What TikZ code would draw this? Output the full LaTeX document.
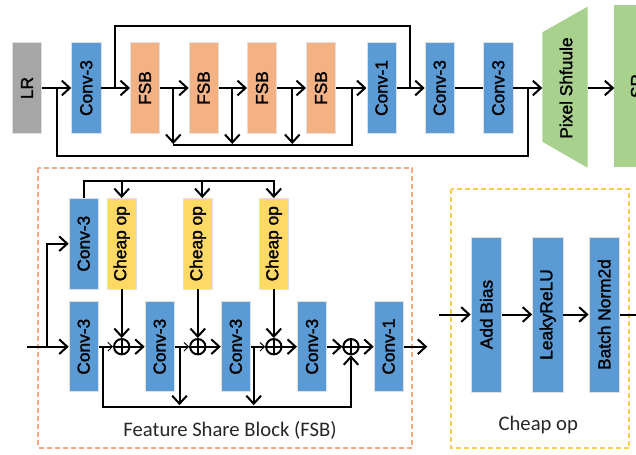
\documentclass[tikz,border=0pt]{standalone}
\usepackage{fontspec}
\setmainfont{Liberation Sans}
\newfontfamily\boxfont{Liberation Sans}[FakeBold=1.6]
\newfontfamily\labfont{Carlito}
\usetikzlibrary{arrows.meta}
\definecolor{cblue}{HTML}{5B9BD5}
\definecolor{corange}{HTML}{F4B183}
\definecolor{cyellow}{HTML}{FFD966}
\definecolor{cgreen}{HTML}{A9D18E}
\definecolor{cgray}{HTML}{A6A6A6}
\definecolor{dorange}{HTML}{F2AB7E}
\definecolor{dyellow}{HTML}{F7CD52}
\newcommand{\vtext}[1]{\rotatebox{90}{#1}}
\begin{document}
\begin{tikzpicture}[x=0.75pt,y=-0.75pt,line width=1.5pt,
  arr/.style={-{Straight Barb[length=6pt,width=11pt]}},
  tarr/.style={-{Straight Barb[length=3.4pt,width=6.5pt,line width=0.7pt]}},
  blk/.style={inner sep=0pt,draw=black!12,line width=0.5pt,font=\boxfont\fontsize{13}{15}\selectfont},
  tb/.style={blk,minimum width=22pt,minimum height=68pt},
  bb/.style={blk,minimum width=22pt,minimum height=67.5pt},
  cb/.style={blk,minimum width=22.9pt,minimum height=116pt,fill=cblue},
  plusnode/.style={circle,draw,line width=1.5pt,minimum size=11.5pt,inner sep=0pt},
  fsbbox/.style={draw=dorange,line width=1.5pt,dash pattern=on 3.75pt off 2.25pt},
  cheapbox/.style={draw=dyellow,line width=1.5pt,dash pattern=on 3.75pt off 2.25pt},
  lab/.style={font=\labfont\fontsize{15.5}{18}\selectfont,text=black!85}]
\useasboundingbox (0,0) rectangle (636,454);
\clip (0,0) rectangle (636,454);
% ---------- top row ----------
\node[tb,fill=cgray] (lr) at (27,88) {\vtext{LR}};
\node[tb,fill=cblue] (c0) at (86.3,88) {\vtext{Conv-3}};
\node[tb,fill=corange] (f1) at (145,88) {\vtext{FSB}};
\node[tb,fill=corange] (f2) at (203.7,88) {\vtext{FSB}};
\node[tb,fill=corange] (f3) at (262,88) {\vtext{FSB}};
\node[tb,fill=corange] (f4) at (321,88) {\vtext{FSB}};
\node[tb,fill=cblue] (c1) at (381.5,88) {\vtext{Conv-1}};
\node[tb,fill=cblue] (c2) at (439.7,88) {\vtext{Conv-3}};
\node[tb,fill=cblue] (c3) at (498.3,88) {\vtext{Conv-3}};
\fill[cgreen] (542.3,32.3) -- (587.5,6.7) -- (587.5,167.7) -- (542.3,141.7) -- cycle;
\node[inner sep=0pt,minimum width=33.9pt,minimum height=82pt,font=\boxfont\fontsize{13}{15}\selectfont] (ps) at (566,88) {\vtext{Pixel Shfuule}};
\fill[cgreen] (614.3,4.7) rectangle (660,166.7);
\node[inner sep=0pt,minimum width=33pt,minimum height=121pt,font=\boxfont\fontsize{13}{15}\selectfont] (sr) at (637,86) {\vtext{SR}};
\coordinate (psin) at (542.3,88);
\coordinate (srin) at (614.3,88);
\coordinate (psout) at (587.5,88);
% top connectors
\coordinate (ja) at (57.3,88);
\coordinate (jz) at (528.3,88);
\coordinate (jb) at (115,88);
\coordinate (jc) at (410,88);
\coordinate (d1) at (173.3,88);
\coordinate (d2) at (232.3,88);
\coordinate (d3) at (292.3,88);
\coordinate (jd) at (352.3,88);
\draw[arr] (lr) -- (c0);
\draw[arr] (c0) -- (f1);
\draw[arr] (f1) -- (f2);
\draw[arr] (f2) -- (f3);
\draw[arr] (f3) -- (f4);
\draw[arr] (f4) -- (c1);
\draw[arr] (c1) -- (c2);
\draw (c2) -- (c3);
\draw[arr] (c3) -- (psin);
\draw[arr] (psout) -- (srin);
\draw (ja) -- ++(0,68) -| (jz);
\draw (jb) -- ++(0,-62) -| (jc);
\draw[arr] (d1) -- ++(0,56);
\draw[arr] (d2) -- ++(0,56);
\draw[arr] (d3) -- ++(0,56);
\draw (d1) ++(0,57) -| (jd);
% ---------- Feature Share Block ----------
\draw[fsbbox] (38.3,168.3) rectangle (412.3,447.7);
\node[lab] (fsblab) at (230,430) {Feature Share Block (FSB)};
\node[tb,fill=cblue] (tc) at (83.7,243.7) {\vtext{Conv-3}};
\node[tb,fill=cyellow] (ch1) at (121.7,243.7) {\vtext{Cheap op}};
\node[tb,fill=cyellow] (ch2) at (197.8,243.7) {\vtext{Cheap op}};
\node[tb,fill=cyellow] (ch3) at (273.8,243.7) {\vtext{Cheap op}};
\node[bb,fill=cblue] (b1) at (83.7,346.7) {\vtext{Conv-3}};
\node[bb,fill=cblue] (b2) at (159.7,346.7) {\vtext{Conv-3}};
\node[bb,fill=cblue] (b3) at (235.8,346.7) {\vtext{Conv-3}};
\node[bb,fill=cblue] (b4) at (312,346.7) {\vtext{Conv-3}};
\node[bb,fill=cblue] (b5) at (388.7,346.7) {\vtext{Conv-1}};
\foreach \n/\x in {p1/121.7,p2/197.8,p3/273.8,p4/351}{
  \node[plusnode] (\n) at (\x,346.7) {};
  \draw (\n.north) -- (\n.south) (\n.west) -- (\n.east);
}
\coordinate (in) at (26.7,346.7);
\coordinate (jin) at (46.7,346.7);
\coordinate (tl) at (83.7,180.7);
\coordinate (ch2in) at ([xshift=3.4pt]ch2.north);
\coordinate (out) at (427.3,346.7);
\coordinate (bs) at (103.3,346.7);
\coordinate (e1) at (179.5,346.7);
\coordinate (e2) at (253.7,346.7);
\draw[arr] (in) -- (b1);
\draw[arr] (jin) |- (tc.west);
\draw[arr] (tc.north) |- (tl) -| (ch3.north);
\draw[arr] (tl -| ch1.north) -- (ch1.north);
\draw[arr] (tl -| ch2in) -- (ch2in);
\draw[arr] (ch1) -- (p1);
\draw[arr] (ch2) -- (p2);
\draw[arr] (ch3) -- (p3);
\draw[tarr] (b1) -- (p1);
\draw[tarr] (b2) -- (p2);
\draw[tarr] (b3) -- (p3);
\draw[arr] (b4) -- (p4);
\draw[arr] (p1) -- (b2);
\draw[arr] (p2) -- (b3);
\draw[arr] (p3) -- (b4);
\draw[arr] (p4) -- (b5);
\draw[arr] (b5) -- (out);
\draw[arr] (bs) -- ++(0,60.6) -| (p4.south);
\draw[arr] (e1) -- ++(0,58.5);
\draw[arr] (e2) -- ++(0,58.5);
% ---------- Cheap op ----------
\draw[cheapbox] (451,189.3) rectangle (629.3,448.3);
\node[lab] (cheaplab) at (538.3,424.5) {Cheap op};
\node[cb] (ab) at (486.3,314.5) {\vtext{Add Bias}};
\node[cb] (lk) at (547.8,314.5) {\vtext{LeakyReLU}};
\node[cb] (bn) at (604.2,314.5) {\vtext{Batch Norm2d}};
\coordinate (ci) at (439.3,314.5);
\coordinate (co) at (648,314.5);
\draw[arr] (ci) -- (ab);
\draw[arr] (ab) -- (lk);
\draw[arr] (lk) -- (bn);
\draw[arr] (bn) -- (co);
\end{tikzpicture}
\end{document}
